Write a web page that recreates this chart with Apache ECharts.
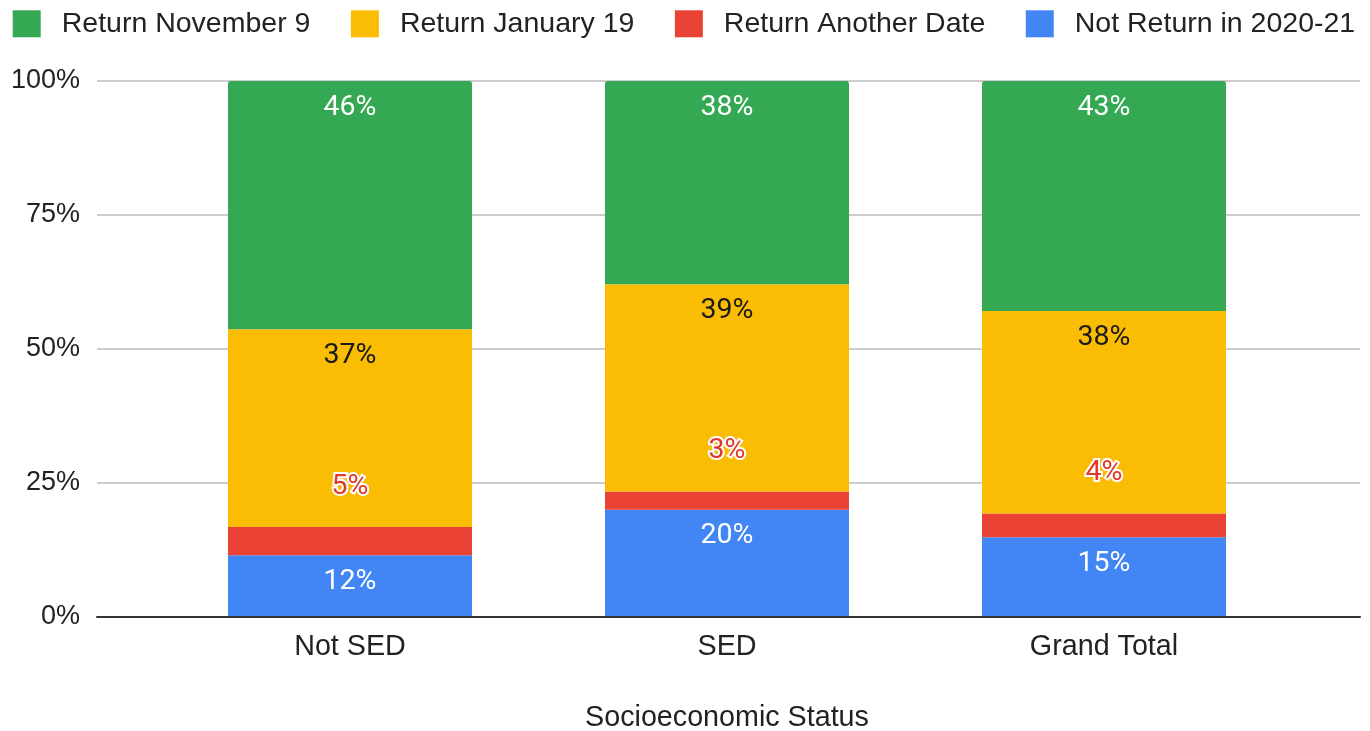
<!DOCTYPE html>
<html>
<head>
<meta charset="utf-8">
<title>Return plans by socioeconomic status</title>
<script src="https://cdn.jsdelivr.net/npm/echarts@6/dist/echarts.min.js"></script>
<style>
  html, body { margin: 0; padding: 0; background: #fff; }
  #chart { width: 1370px; height: 731px; }
</style>
</head>
<body>
<div id="chart"></div>
<script>
// data (percent of each group)
const categories = ["Not SED", "SED", "Grand Total"];
const notReturn = [11.5, 20.0, 14.9];
const returnOther = [5.3, 3.4, 4.4];
const returnJan19 = [36.9, 38.7, 37.8];
const returnNov9 = [46.3, 37.9, 42.9];
const yTicks = [0, 25, 50, 75, 100];

const seriesNames = ["Return November 9", "Return January 19", "Return Another Date", "Not Return in 2020-21"];
const colors = {
  nov: "#34a853",
  jan: "#fbbc04",
  other: "#ea4335",
  not: "#4285f4",
};

const axisFont = "'Liberation Sans', Arial, sans-serif";
const labelFont = "Roboto, 'Liberation Sans', sans-serif";

const pct = (p) => Math.round(p.value) + "%";

const insideLabel = (color) => ({
  show: true,
  position: "insideTop",
  distance: 12,
  color: color,
  fontFamily: labelFont,
  fontSize: 28.5,
  lineHeight: 29,
  formatter: pct,
});

const chart = echarts.init(document.getElementById("chart"));

const options = {
  animation: false,
  color: [colors.nov, colors.jan, colors.other, colors.not],
  legend: {
    left: 12.7,
    top: 9.3,
    padding: 0,
    itemWidth: 28,
    itemHeight: 27,
    itemGap: 40.5,
    icon: "rect",
    data: seriesNames,
    textStyle: {
      fontFamily: axisFont,
      fontSize: 28.5,
      color: "#222",
      padding: [0, 0, 0, 16],
    },
  },
  grid: [
    // full-width grid for gridlines + y labels
    { left: 97, right: 10, top: 81, bottom: 114, outerBoundsMode: "none" },
    // narrower grid that holds the bars
    { left: 161.5, right: 77.5, top: 81, bottom: 114, outerBoundsMode: "none" },
  ],
  xAxis: [
    {
      gridIndex: 0,
      type: "value",
      min: 0,
      max: 1,
      z: 10,
      axisLine: { show: true, lineStyle: { color: "#333", width: 2 } },
      axisTick: { show: false },
      axisLabel: { show: false },
      splitLine: { show: false },
    },
    {
      gridIndex: 1,
      type: "category",
      data: categories,
      axisLine: { show: false },
      axisTick: { show: false },
      axisLabel: {
        margin: 16,
        color: "#222",
        fontFamily: axisFont,
        fontSize: 28.7,
      },
      name: "Socioeconomic Status",
      nameLocation: "middle",
      nameGap: 87,
      nameTextStyle: {
        color: "#222",
        fontFamily: axisFont,
        fontSize: 28.7,
      },
    },
  ],
  yAxis: [
    {
      gridIndex: 0,
      type: "value",
      min: yTicks[0],
      max: yTicks[yTicks.length - 1],
      interval: 25,
      axisLine: { show: false },
      axisTick: { show: false },
      axisLabel: {
        margin: 17,
        color: "#222",
        fontFamily: axisFont,
        fontSize: 27,
        padding: [8, 0, 0, 0],
        formatter: "{value}%",
      },
      splitLine: { lineStyle: { color: "#cccccc", width: 2 } },
    },
    {
      gridIndex: 1,
      type: "value",
      min: 0,
      max: 100,
      show: false,
      splitLine: { show: false },
    },
  ],
  series: [
    {
      name: "Not Return in 2020-21",
      type: "bar",
      stack: "total",
      xAxisIndex: 1,
      yAxisIndex: 1,
      barWidth: 244,
      data: notReturn,
      itemStyle: { color: colors.not },
      label: insideLabel("#ffffff"),
    },
    {
      name: "Return Another Date",
      type: "bar",
      stack: "total",
      xAxisIndex: 1,
      yAxisIndex: 1,
      barWidth: 244,
      data: returnOther,
      itemStyle: { color: colors.other },
      label: {
        show: true,
        position: "top",
        distance: 26,
        color: "#e0392b",
        textBorderColor: "#ffffff",
        textBorderWidth: 4,
        fontFamily: labelFont,
        fontSize: 28.5,
        lineHeight: 29,
        formatter: pct,
      },
    },
    {
      name: "Return January 19",
      type: "bar",
      stack: "total",
      xAxisIndex: 1,
      yAxisIndex: 1,
      barWidth: 244,
      data: returnJan19,
      itemStyle: { color: colors.jan },
      label: insideLabel("#1a1a1a"),
    },
    {
      name: "Return November 9",
      type: "bar",
      stack: "total",
      xAxisIndex: 1,
      yAxisIndex: 1,
      barWidth: 244,
      data: returnNov9,
      itemStyle: { color: colors.nov, borderRadius: [3, 3, 0, 0] },
      label: insideLabel("#ffffff"),
    },
  ],
};

chart.setOption(options);

window.addEventListener("resize", () => {
  chart.resize();
});
</script>
</body>
</html>
